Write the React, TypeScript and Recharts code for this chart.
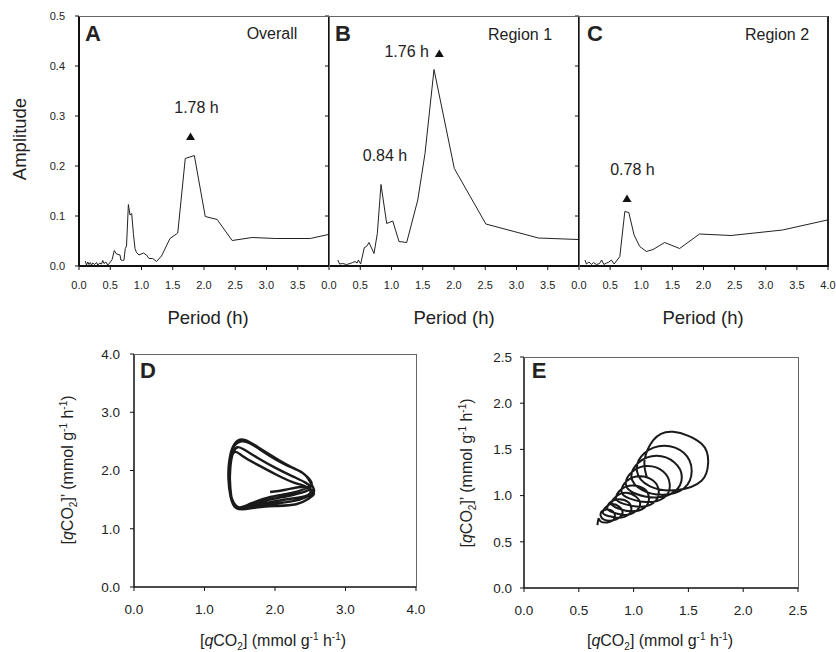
import React from 'react';
import { LineChart, Line, XAxis, YAxis, ReferenceDot } from 'recharts';

const font = '"Liberation Sans", Arial, Helvetica, sans-serif';

// periodograms (period in h, amplitude)
const periodA = [0.10, 0.12, 0.14, 0.16, 0.18, 0.20, 0.22, 0.25, 0.28, 0.30, 0.33, 0.36, 0.38, 0.40, 0.43, 0.46, 0.49, 0.53, 0.565, 0.60, 0.656, 0.67, 0.70, 0.72, 0.74, 0.76, 0.79, 0.816, 0.843, 0.87, 0.896, 0.92, 0.96, 1.03, 1.08, 1.12, 1.18, 1.24, 1.32, 1.456, 1.58, 1.70, 1.845, 2.02, 2.21, 2.45, 2.77, 3.15, 3.70, 3.99];
const ampA = [0.010, 0.002, 0.008, 0.003, 0.007, 0.002, 0.006, 0.003, 0.007, 0.002, 0.006, 0.004, 0.011, 0.005, 0.008, 0.002, 0.006, 0.013, 0.031, 0.024, 0.022, 0.012, 0.011, 0.012, 0.035, 0.040, 0.123, 0.102, 0.105, 0.065, 0.035, 0.027, 0.022, 0.026, 0.022, 0.015, 0.015, 0.009, 0.020, 0.055, 0.066, 0.215, 0.221, 0.099, 0.093, 0.051, 0.057, 0.055, 0.055, 0.063];

const periodB = [0.14, 0.17, 0.22, 0.28, 0.336, 0.38, 0.416, 0.45, 0.47, 0.507, 0.565, 0.60, 0.64, 0.72, 0.773, 0.832, 0.923, 1.02, 1.12, 1.243, 1.42, 1.536, 1.68, 2.005, 2.51, 3.35, 3.99];
const ampB = [0.012, 0.004, 0.005, 0.003, 0.005, 0.007, 0.009, 0.006, 0.012, 0.004, 0.037, 0.039, 0.047, 0.025, 0.065, 0.163, 0.085, 0.090, 0.049, 0.047, 0.132, 0.225, 0.393, 0.195, 0.084, 0.056, 0.053];

const periodC = [0.096, 0.12, 0.16, 0.20, 0.23, 0.28, 0.33, 0.363, 0.40, 0.44, 0.47, 0.52, 0.565, 0.656, 0.736, 0.80, 0.885, 0.976, 1.083, 1.19, 1.376, 1.616, 1.936, 2.443, 3.27, 3.99];
const ampC = [0.012, 0.004, 0.008, 0.003, 0.007, 0.003, 0.005, 0.012, 0.003, 0.006, 0.007, 0.012, 0.004, 0.019, 0.109, 0.107, 0.062, 0.039, 0.029, 0.033, 0.047, 0.035, 0.064, 0.061, 0.072, 0.092];

// phase portraits: qCO2 vs qCO2'
const dX = [1.93, 2.15, 2.4, 2.5, 2.45, 2.2, 1.95, 1.65, 1.45,
  1.37, 1.34, 1.35, 1.40, 1.48, 1.58, 1.76, 2.0, 2.2, 2.38, 2.47, 2.55, 2.52, 2.35, 2.0, 1.7, 1.46,
  1.38, 1.36, 1.37, 1.41, 1.47, 1.56, 1.75, 2.0, 2.25, 2.42, 2.5, 2.45, 2.25, 2.0, 1.7, 1.48,
  1.37, 1.36, 1.38, 1.44, 1.55, 1.75, 2.0, 2.25, 2.42, 2.55, 2.48, 2.3, 2.0, 1.7, 1.46,
  1.37, 1.36, 1.37, 1.42, 1.52, 1.64, 1.85, 2.1, 2.33, 2.45, 2.52, 2.45, 2.25, 1.95, 1.65, 1.45,
  1.37, 1.35, 1.36, 1.41, 1.50];
const dY = [1.63, 1.67, 1.72, 1.66, 1.57, 1.51, 1.46, 1.39, 1.36,
  1.55, 1.85, 2.15, 2.40, 2.52, 2.52, 2.40, 2.22, 2.08, 1.97, 1.86, 1.68, 1.60, 1.50, 1.43, 1.38, 1.35,
  1.55, 1.85, 2.1, 2.32, 2.40, 2.36, 2.22, 2.05, 1.90, 1.80, 1.72, 1.65, 1.58, 1.52, 1.43, 1.37,
  1.6, 1.9, 2.2, 2.32, 2.24, 2.10, 1.94, 1.80, 1.73, 1.62, 1.52, 1.42, 1.39, 1.36, 1.35,
  1.6, 1.9, 2.2, 2.42, 2.50, 2.47, 2.31, 2.13, 2.00, 1.90, 1.78, 1.70, 1.62, 1.55, 1.43, 1.37,
  1.6, 1.9, 2.2, 2.42, 2.53];

const eX = [0.67, 0.68,
  0.70, 0.76, 0.81, 0.83, 0.81, 0.76, 0.71, 0.70,
  0.73, 0.80, 0.87, 0.90, 0.87, 0.81, 0.75, 0.72,
  0.77, 0.86, 0.95, 0.98, 0.95, 0.87, 0.79, 0.76,
  0.81, 0.92, 1.02, 1.06, 1.02, 0.93, 0.84, 0.80,
  0.86, 0.98, 1.10, 1.14, 1.10, 0.99, 0.89, 0.84,
  0.91, 1.05, 1.18, 1.23, 1.18, 1.06, 0.94, 0.89,
  0.96, 1.12, 1.28, 1.33, 1.27, 1.13, 0.99, 0.93,
  1.02, 1.20, 1.37, 1.44, 1.37, 1.21, 1.05, 0.98,
  1.08, 1.27, 1.46, 1.53, 1.46, 1.28, 1.10, 1.03,
  1.15, 1.40, 1.62, 1.68, 1.62, 1.36, 1.18, 1.10, 1.12];
const eY = [0.68, 0.75,
  0.72, 0.71, 0.73, 0.78, 0.83, 0.85, 0.83, 0.78,
  0.74, 0.73, 0.76, 0.82, 0.88, 0.91, 0.88, 0.81,
  0.78, 0.76, 0.79, 0.86, 0.93, 0.96, 0.93, 0.86,
  0.82, 0.79, 0.83, 0.91, 0.99, 1.03, 0.99, 0.91,
  0.86, 0.83, 0.87, 0.97, 1.07, 1.11, 1.07, 0.97,
  0.91, 0.88, 0.92, 1.04, 1.16, 1.21, 1.16, 1.04,
  0.97, 0.93, 0.98, 1.12, 1.26, 1.32, 1.26, 1.12,
  1.02, 0.98, 1.04, 1.20, 1.36, 1.43, 1.36, 1.20,
  1.06, 1.01, 1.08, 1.27, 1.46, 1.54, 1.46, 1.27,
  1.10, 1.06, 1.16, 1.35, 1.56, 1.69, 1.60, 1.38, 1.20];

const periodTicks = [0, 0.5, 1, 1.5, 2, 2.5, 3, 3.5];
const periodTicksC = [0, 0.5, 1, 1.5, 2, 2.5, 3, 3.5, 4];
const ampTicks = [0, 0.1, 0.2, 0.3, 0.4, 0.5];
const dTicks = [0, 1, 2, 3, 4];
const eTicks = [0, 0.5, 1, 1.5, 2, 2.5];

const zipPA = (p: number[], a: number[]) => p.map((v, i) => ({ p: v, a: a[i] }));
const zipXY = (x: number[], y: number[]) => x.map((v, i) => ({ x: v, y: y[i] }));

const dataA = zipPA(periodA, ampA);
const dataB = zipPA(periodB, ampB);
const dataC = zipPA(periodC, ampC);
const dataD = zipXY(dX, dY);
const dataE = zipXY(eX, eY);

const fmt1 = (v: number) => v.toFixed(1);
const blank = () => '';

const triangle = (p: any) => (
  <path d={`M${p.cx},${p.cy - 4} L${p.cx + 4.5},${p.cy + 3.5} L${p.cx - 4.5},${p.cy + 3.5} Z`} fill="#111" />
);

const smallTick = { fontSize: 11, fill: '#222', fontFamily: font };
const bigTick = { fontSize: 13.5, fill: '#222', fontFamily: font };
const peakLabel = (value: string) => ({ value, position: 'center' as const, fontSize: 16, fill: '#222', fontFamily: font });

const abs = (left: number, top: number): React.CSSProperties => ({ position: 'absolute', left, top });

function Txt({ x, y, size, bold, rotate, children }: any) {
  return (
    <div
      style={{
        position: 'absolute', left: x, top: y, whiteSpace: 'nowrap', lineHeight: 1,
        fontSize: size, fontWeight: bold ? 'bold' : 'normal',
        transform: `translate(-50%, -50%)${rotate ? ' rotate(-90deg)' : ''}`,
      }}
    >
      {children}
    </div>
  );
}

function Frame({ x, y, w, h, right }: any) {
  return (
    <div
      style={{
        position: 'absolute', left: x, top: y, width: w, height: h, boxSizing: 'border-box',
        borderTop: '1px solid #666', borderRight: right || '1px solid #666', pointerEvents: 'none',
      }}
    />
  );
}

const sub: React.CSSProperties = { fontSize: 10, position: 'relative', top: 4 };
const sup: React.CSSProperties = { fontSize: 10, position: 'relative', top: -6 };

function QLabel({ prime }: { prime?: boolean }) {
  return (
    <span>
      [<i>q</i>CO<span style={sub}>2</span>]{prime ? '\u2019' : ''} (mmol g<span style={sup}>-1</span> h<span style={sup}>-1</span>)
    </span>
  );
}

export default function App() {
  const xAxisP = (ticks: number[]) => (
    <XAxis dataKey="p" type="number" domain={[0, 4]} ticks={ticks} interval={0} tickFormatter={fmt1}
      tick={smallTick} tickSize={4} tickMargin={11} height={30}
      axisLine={{ stroke: '#111', strokeWidth: 2 }} tickLine={{ stroke: '#111' }} />
  );
  const yAxisP = (width: number, labels: boolean) => (
    <YAxis type="number" domain={[0, 0.5]} ticks={ampTicks} interval={0} width={width}
      tickFormatter={labels ? fmt1 : blank} tick={smallTick} tickSize={4} tickMargin={10}
      axisLine={{ stroke: '#111', strokeWidth: 2 }} tickLine={{ stroke: '#111' }} />
  );
  const curve = <Line dataKey="a" type="linear" stroke="#222" strokeWidth={1} dot={false} isAnimationActive={false} />;

  return (
    <div style={{ position: 'absolute', left: 0, top: 0, width: 836, height: 652, background: '#fff', fontFamily: font, color: '#222', overflow: 'hidden' }}>
      {/* A */}
      <div style={abs(0, 0)}>
        <LineChart width={340} height={300} data={dataA} margin={{ top: 16, right: 11, bottom: 4, left: 29 }}>
          {xAxisP(periodTicks)}
          {yAxisP(50, true)}
          {curve}
          <ReferenceDot x={1.784} y={0.259} r={4} shape={triangle} />
          <ReferenceDot x={1.88} y={0.317} r={0} fill="none" stroke="none" label={peakLabel('1.78 h')} />
        </LineChart>
      </div>
      {/* B */}
      <div style={abs(300, 0)}>
        <LineChart width={290} height={300} data={dataB} margin={{ top: 16, right: 11, bottom: 4, left: 0 }}>
          {xAxisP(periodTicks)}
          {yAxisP(29, false)}
          {curve}
          <ReferenceDot x={1.765} y={0.425} r={4} shape={triangle} />
          <ReferenceDot x={1.243} y={0.43} r={0} fill="none" stroke="none" label={peakLabel('1.76 h')} />
          <ReferenceDot x={0.896} y={0.222} r={0} fill="none" stroke="none" label={peakLabel('0.84 h')} />
        </LineChart>
      </div>
      {/* C */}
      <div style={abs(550, 0)}>
        <LineChart width={286} height={300} data={dataC} margin={{ top: 16, right: 8, bottom: 4, left: 0 }}>
          {xAxisP(periodTicksC)}
          {yAxisP(29, false)}
          {curve}
          <ReferenceDot x={0.771} y={0.135} r={4} shape={triangle} />
          <ReferenceDot x={0.859} y={0.193} r={0} fill="none" stroke="none" label={peakLabel('0.78 h')} />
        </LineChart>
      </div>
      <Frame x={79} y={15.5} w={251} h={251} />
      <Frame x={329} y={15.5} w={251} h={251} />
      <Frame x={579} y={15.5} w={250} h={251} right="2px solid #222" />

      <Txt x={93} y={34} size={22} bold>A</Txt>
      <Txt x={272} y={34} size={16}>Overall</Txt>
      <Txt x={343} y={34} size={22} bold>B</Txt>
      <Txt x={520} y={35} size={16}>Region 1</Txt>
      <Txt x={595} y={34} size={22} bold>C</Txt>
      <Txt x={777} y={35} size={16}>Region 2</Txt>
      <Txt x={20} y={139} size={18.5} rotate>Amplitude</Txt>
      <Txt x={208} y={318} size={18.5}>Period (h)</Txt>
      <Txt x={454} y={318} size={18.5}>Period (h)</Txt>
      <Txt x={703} y={318} size={18.5}>Period (h)</Txt>

      {/* D */}
      <div style={abs(60, 340)}>
        <LineChart width={366} height={290} data={dataD} margin={{ top: 14, right: 10, bottom: 3, left: 0 }}>
          <XAxis dataKey="x" type="number" domain={[0, 4]} ticks={dTicks} interval={0} tickFormatter={fmt1}
            tick={bigTick} tickSize={4} tickMargin={13} height={40}
            axisLine={{ stroke: '#111', strokeWidth: 1.5 }} tickLine={{ stroke: '#111' }} />
          <YAxis type="number" domain={[0, 4]} ticks={dTicks} interval={0} width={74} tickFormatter={fmt1}
            tick={bigTick} tickSize={4} tickMargin={10}
            axisLine={{ stroke: '#111', strokeWidth: 1.5 }} tickLine={{ stroke: '#111' }} />
          <Line dataKey="y" type="natural" stroke="#1a1a1a" strokeWidth={2.4} dot={false} isAnimationActive={false} />
        </LineChart>
      </div>
      <Frame x={134} y={353.5} w={283} h={234} />
      <Txt x={148} y={371} size={22} bold>D</Txt>
      <Txt x={273} y={641} size={16}><QLabel /></Txt>
      <Txt x={68} y={470} size={16} rotate><QLabel prime /></Txt>

      {/* E */}
      <div style={abs(450, 340)}>
        <LineChart width={358} height={290} data={dataE} margin={{ top: 17, right: 10, bottom: 2, left: 0 }}>
          <XAxis dataKey="x" type="number" domain={[0, 2.5]} ticks={eTicks} interval={0} tickFormatter={fmt1}
            tick={bigTick} tickSize={4} tickMargin={13} height={40}
            axisLine={{ stroke: '#111', strokeWidth: 1.5 }} tickLine={{ stroke: '#111' }} />
          <YAxis type="number" domain={[0, 2.5]} ticks={eTicks} interval={0} width={74} tickFormatter={fmt1}
            tick={bigTick} tickSize={4} tickMargin={8}
            axisLine={{ stroke: '#111', strokeWidth: 1.5 }} tickLine={{ stroke: '#111' }} />
          <Line dataKey="y" type="natural" stroke="#1a1a1a" strokeWidth={2} dot={false} isAnimationActive={false} />
        </LineChart>
      </div>
      <Frame x={524} y={356.5} w={275} h={232} />
      <Txt x={539} y={371} size={22} bold>E</Txt>
      <Txt x={660} y={641} size={16}><QLabel /></Txt>
      <Txt x={467} y={473} size={16} rotate><QLabel prime /></Txt>
    </div>
  );
}
